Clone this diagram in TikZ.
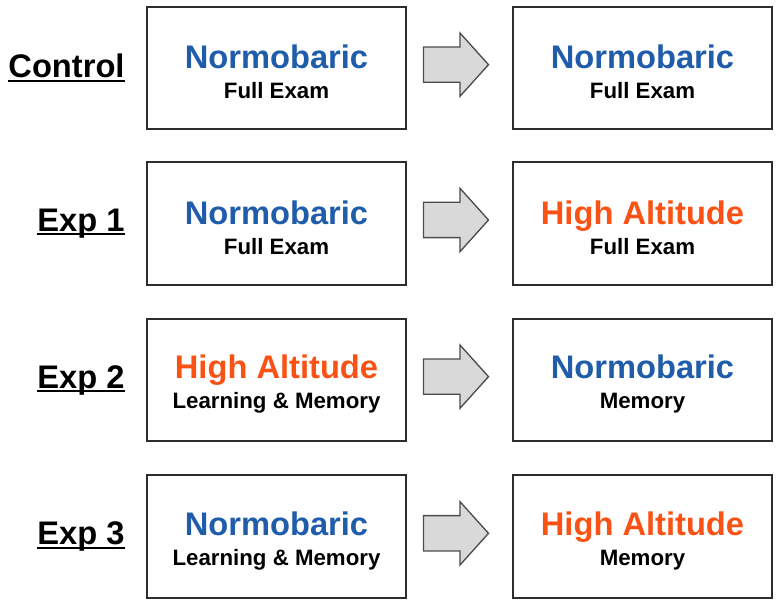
\documentclass[tikz,border=0pt]{standalone}
\usepackage{fontspec}
\setmainfont{Liberation Sans}
\usepackage{xcolor}
\usepackage{tikz}
\usetikzlibrary{positioning, shapes.arrows}
\definecolor{normo}{RGB}{31, 92, 170}
\definecolor{altit}{RGB}{250, 82, 20}
\definecolor{edge}{RGB}{45, 45, 45}
\newcommand{\session}[3]{{\color{#1}\fontsize{24.5}{22.5}\selectfont\rule{0pt}{24pt}#2}\\{\fontsize{16.7}{22.5}\selectfont #3}}
\newcommand{\grouptag}[1]{\setbox0\hbox{#1}\rlap{\raisebox{-3.2pt}{\rule{\wd0}{1.5pt}}}\box0}

\begin{document}
\begin{tikzpicture}[x=0.75pt, y=-0.75pt,
  cond/.style={draw=edge, line width=1.5pt, minimum width=194pt,
    minimum height=92pt, align=center, inner sep=0pt,
    font=\bfseries\fontsize{16.7}{22.5}\selectfont},
  group/.style={inner sep=0pt, font=\bfseries\fontsize{24.5}{26}\selectfont},
  transit/.style={single arrow, draw=edge!85, fill=gray!30, line width=1pt,
    inner sep=0pt, text height=12.75pt, text depth=12.75pt,
    minimum height=48.75pt, single arrow head extend=10.5pt,
    single arrow tip angle=96, yshift=2.5pt}
]
\useasboundingbox (0,0) rectangle (776,602);
\node[cond] (ctrl-a) at (276.5,68) {\session{normo}{Normobaric}{Full Exam}};
\node[cond, right=79pt of ctrl-a] (ctrl-b) {\session{normo}{Normobaric}{Full Exam}};
\node[cond, below=23pt of ctrl-a] (exp1-a) {\session{normo}{Normobaric}{Full Exam}};
\node[cond, right=79pt of exp1-a] (exp1-b) {\session{altit}{High Altitude}{Full Exam}};
\node[cond, below=24pt of exp1-a] (exp2-a) {\session{altit}{High Altitude}{Learning \& Memory}};
\node[cond, right=79pt of exp2-a] (exp2-b) {\session{normo}{Normobaric}{Memory}};
\node[cond, below=24pt of exp2-a] (exp3-a) {\session{normo}{Normobaric}{Learning \& Memory}};
\node[cond, right=79pt of exp3-a] (exp3-b) {\session{altit}{High Altitude}{Memory}};
% row labels
\node[group, left=16pt of ctrl-a] (ctrl-tag) {\grouptag{Control}};
\node[group, left=16pt of exp1-a] (exp1-tag) {\grouptag{Exp 1}};
\node[group, left=16pt of exp2-a] (exp2-tag) {\grouptag{Exp 2}};
\node[group, left=16pt of exp3-a] (exp3-tag) {\grouptag{Exp 3}};
% block arrows
\node[transit, right=12pt of ctrl-a] (ctrl-arrow) {};
\node[transit, right=12pt of exp1-a] (exp1-arrow) {};
\node[transit, right=12pt of exp2-a] (exp2-arrow) {};
\node[transit, right=12pt of exp3-a] (exp3-arrow) {};
\end{tikzpicture}
\end{document}
